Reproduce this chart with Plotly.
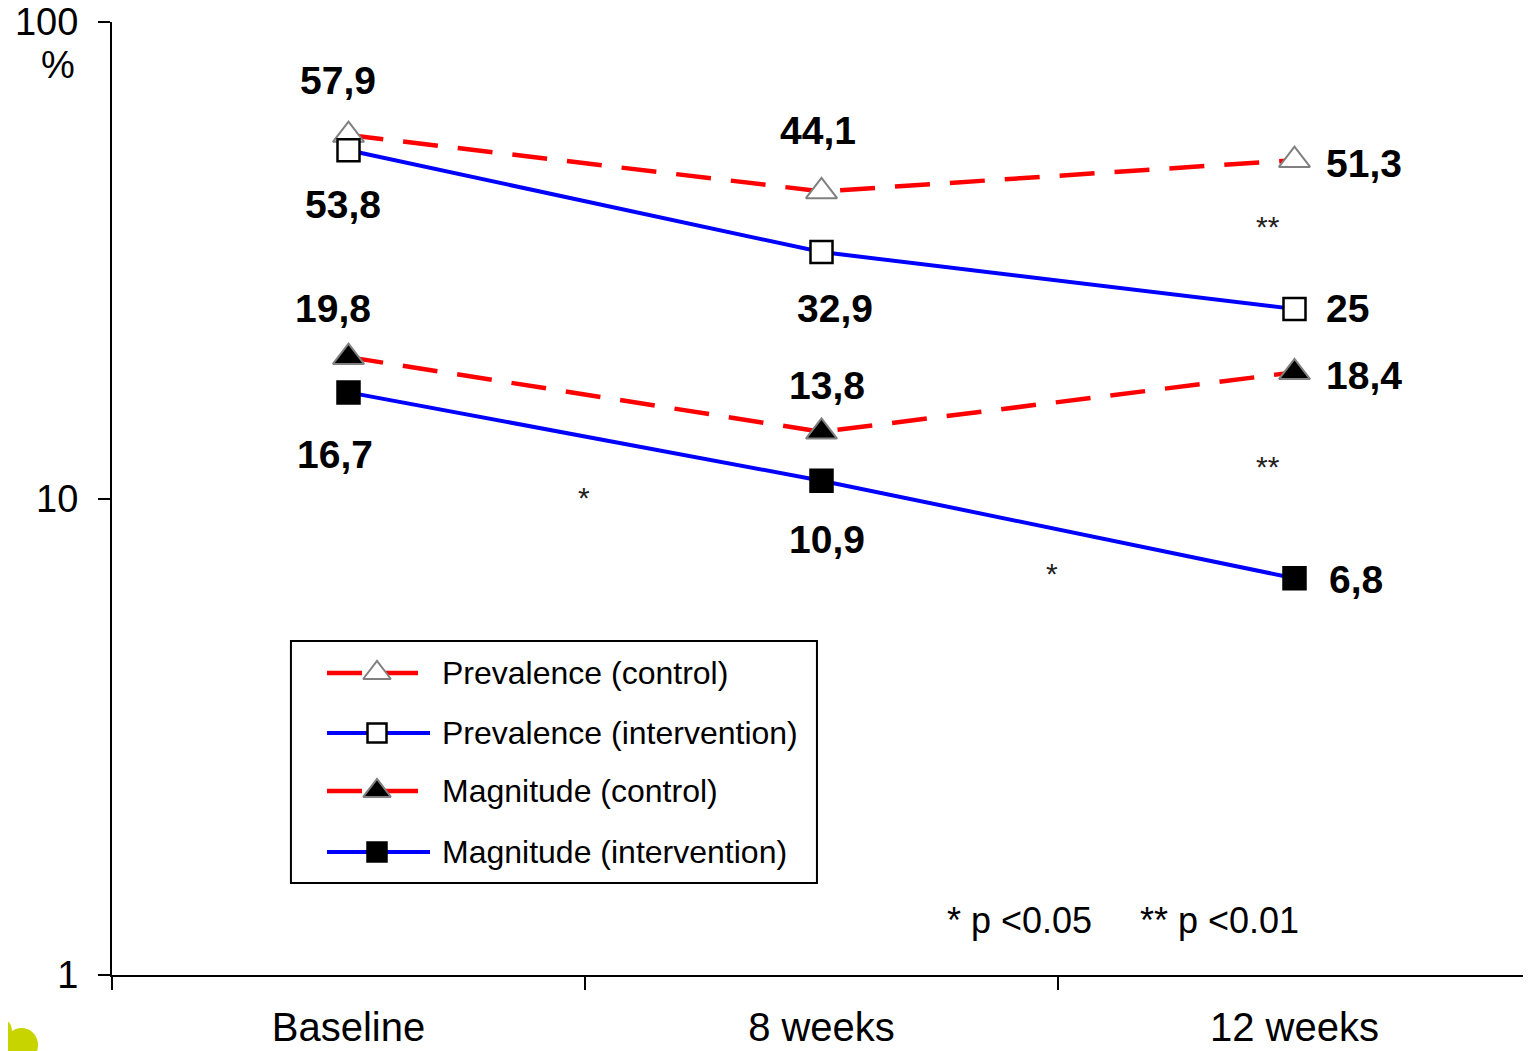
import math
import plotly.graph_objects as go

# ---------------- data ----------------
categories = ["Baseline", "8 weeks", "12 weeks"]
prev_control = [57.9, 44.1, 51.3]
prev_interv = [53.8, 32.9, 25.0]
mag_control = [19.8, 13.8, 18.4]
mag_interv = [16.7, 10.9, 6.8]
series_names = ["Prevalence (control)", "Prevalence (intervention)",
                "Magnitude (control)", "Magnitude (intervention)"]
y_tickvals = [1, 10, 100]
y_ticktext = ["1", "10", "100"]

FONT = "Liberation Sans, Arial, sans-serif"
RED = "#FF0000"
BLUE = "#0000FF"
GREY = "#808080"

styles = [
    dict(line=dict(color=RED, width=4.5, dash="35px,20px"),
         marker=dict(symbol="triangle-up", size=27, color="white", line=dict(color=GREY, width=2))),
    dict(line=dict(color=BLUE, width=4),
         marker=dict(symbol="square", size=22, color="white", line=dict(color="black", width=2.5))),
    dict(line=dict(color=RED, width=4.5, dash="35px,20px"),
         marker=dict(symbol="triangle-up", size=27, color="black", line=dict(color=GREY, width=2))),
    dict(line=dict(color=BLUE, width=4),
         marker=dict(symbol="square", size=22, color="black", line=dict(color="black", width=2.5))),
]
all_series = [prev_control, prev_interv, mag_control, mag_interv]

fig = go.Figure()
for name, vals, st in zip(series_names, all_series, styles):
    fig.add_trace(go.Scatter(x=categories, y=vals, mode="lines+markers", name=name,
                             line=st["line"], marker=st["marker"], showlegend=False,
                             cliponaxis=False))

# ---------------- value labels ----------------
def fmt(v):
    s = f"{v:.1f}"
    if s.endswith(".0"):
        s = s[:-2]
    return s.replace(".", ",")

# offsets (xshift, yshift, xanchor) per series per category
offsets = [
    [(-11, 55, "center"), (-4, 61, "center"), (29, -3, "left")],
    [(-6, -54, "center"), (13, -56, "center"), (29, 0, "left")],
    [(-16, 49, "center"), (5, 46, "center"), (29, -3, "left")],
    [(-14, -62, "center"), (5, -59, "center"), (32, -1, "left")],
]
annotations = []
for vals, offs in zip(all_series, offsets):
    for cat, v, (dx, dy, xa) in zip(categories, vals, offs):
        annotations.append(dict(x=cat, y=math.log10(v), xref="x", yref="y", text=fmt(v),
                                showarrow=False, xshift=dx, yshift=dy, xanchor=xa, yanchor="middle",
                                font=dict(family=FONT, size=39, color="black", weight="bold")))

# significance asterisks
sig_marks = [("*", 0.498, 1.0115), ("*", 1.487, 0.852), ("**", 1.944, 1.580), ("**", 1.944, 1.0766)]
for txt, xx, yy in sig_marks:
    annotations.append(dict(x=xx, y=yy, xref="x", yref="y", text=txt, showarrow=False,
                            yshift=-4, font=dict(family=FONT, size=30, color="#222222")))

# p-value note
annotations.append(dict(x=0.587, y=0.0577, xref="paper", yref="paper", text="* p <0.05",
                        showarrow=False, xanchor="left", yanchor="middle",
                        font=dict(family=FONT, size=36, color="black")))
annotations.append(dict(x=0.723, y=0.0577, xref="paper", yref="paper", text="** p <0.01",
                        showarrow=False, xanchor="left", yanchor="middle",
                        font=dict(family=FONT, size=36, color="black")))
# percent unit
annotations.append(dict(x=-0.038, y=0.955, xref="paper", yref="paper", text="%",
                        showarrow=False, xanchor="center", yanchor="middle",
                        font=dict(family=FONT, size=38, color="black")))

# ---------------- custom legend ----------------
shapes = []
shapes.append(dict(type="rect", xref="paper", yref="paper", x0=0.1261, x1=0.4968, y0=0.0965, y1=0.3505,
                   line=dict(color="black", width=2), fillcolor="rgba(0,0,0,0)", layer="above"))
row_y = [0.3169, 0.2539, 0.1931, 0.1291]
lx0, lx1, lmid = (327 - 112) / 1419, (430 - 112) / 1419, (377 - 112) / 1419
red_a, red_b = (362 - 112) / 1419, (385 - 112) / 1419
red_end = (418 - 112) / 1419
for i, (name, st) in enumerate(zip(series_names, styles)):
    ly = row_y[i]
    col = st["line"]["color"]
    if col == RED:
        shapes.append(dict(type="line", xref="paper", yref="paper", x0=lx0, x1=red_a, y0=ly, y1=ly,
                           line=dict(color=col, width=4.5), layer="below"))
        shapes.append(dict(type="line", xref="paper", yref="paper", x0=red_b, x1=red_end, y0=ly, y1=ly,
                           line=dict(color=col, width=4.5), layer="below"))
    else:
        shapes.append(dict(type="line", xref="paper", yref="paper", x0=lx0, x1=lx1, y0=ly, y1=ly,
                           line=dict(color=col, width=4), layer="below"))
    annotations.append(dict(x=(440 - 112) / 1419, y=ly, xref="paper", yref="paper", text=name,
                            showarrow=False, xanchor="left", yanchor="middle",
                            font=dict(family=FONT, size=32, color="black")))
    mk = dict(st["marker"])
    mk["size"] = mk["size"] - 3
    fig.add_trace(go.Scatter(x=[lmid], y=[ly], xaxis="x2", yaxis="y2", mode="markers",
                             marker=mk, showlegend=False, hoverinfo="skip", cliponaxis=False))

# decorative blob at bottom left
shapes.append(dict(type="circle", xref="paper", yref="paper", x0=-0.0754, x1=-0.0521,
                   y0=-0.0913, y1=-0.0556, fillcolor="#C8D400", line=dict(width=0)))
shapes.append(dict(type="circle", xref="paper", yref="paper", x0=-0.0824, x1=-0.0705,
                   y0=-0.0682, y1=-0.0472, fillcolor="#C8D400", line=dict(width=0)))

# page body has an 8px margin: compensate so the plot area sits at 112..1531 x 22..975
fig.update_layout(
    width=1523, height=1043,
    margin=dict(l=104, r=0, t=14, b=76, autoexpand=False),
    paper_bgcolor="white", plot_bgcolor="white",
    showlegend=False,
    font=dict(family=FONT, color="black"),
    annotations=annotations,
    shapes=shapes,
    xaxis=dict(type="category", categoryorder="array", categoryarray=categories,
               range=[-0.5, 2.5], showline=True, linecolor="black", linewidth=2,
               ticks="outside", tickson="boundaries", ticklen=13, tickwidth=2, tickcolor="black",
               showgrid=False, zeroline=False, ticklabelstandoff=16, ticklabeloverflow="allow",
               automargin=False,
               tickfont=dict(family=FONT, size=40, color="black")),
    yaxis=dict(type="log", range=[0, 2], showline=True, linecolor="black", linewidth=2,
               tickvals=y_tickvals, ticktext=y_ticktext, ticks="outside", ticklen=12, tickwidth=2,
               tickcolor="black", showgrid=False, zeroline=False, ticklabelstandoff=12,
               ticklabeloverflow="allow", automargin=False,
               tickfont=dict(family=FONT, size=38, color="black")),
    xaxis2=dict(overlaying="x", range=[0, 1], visible=False),
    yaxis2=dict(overlaying="y", range=[0, 1], visible=False),
)

fig.write_html("out.html")
